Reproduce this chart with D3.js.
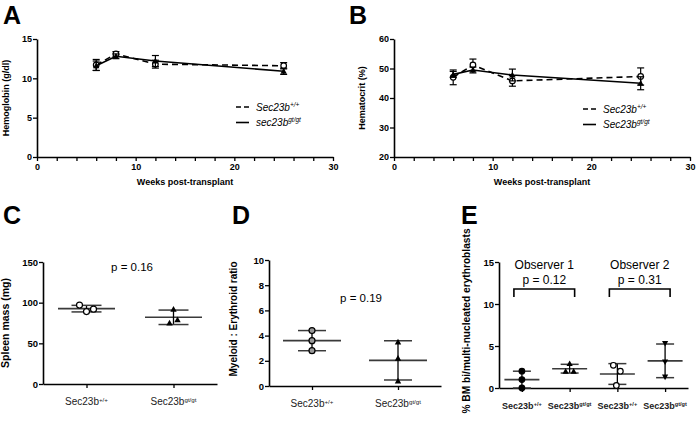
<!DOCTYPE html>
<html><head><meta charset="utf-8">
<script src="https://cdn.jsdelivr.net/npm/d3@7"></script>
<style>
body{margin:0;background:#fff;}
svg{font-family:"Liberation Sans",Arial,sans-serif;}
</style></head>
<body><svg id="c" width="696" height="435"></svg>
<script>
// ---------------- DATA ----------------
const weeks = [6, 8, 12, 25];
const hbWT = [11.7, 13.1, 11.8, 11.6];
const hbWTsd = [0.7, 0.3, 0.5, 0.4];
const hbGT = [11.6, 12.8, 12.2, 10.9];
const hbGTsd = [0.6, 0.3, 0.7, 0.4];
const hctWT = [47.0, 51.2, 45.8, 47.3];
const hctWTsd = [2.5, 2.0, 1.8, 2.9];
const hctGT = [48.0, 49.5, 47.8, 45.0];
const hctGTsd = [1.0, 1.0, 2.0, 2.2];
const legendA = [["Sec23b", "+/+"], ["sec23b", "gt/gt"]];
const legendB = [["Sec23b", "+/+"], ["Sec23b", "gt/gt"]];
const genotypes = ["+/+", "gt/gt"];
const spleenWT = [97, 89, 92];
const spleenGT = [92, 75, 79];
const meWT = [4.4, 3.6, 2.8];
const meGT = [3.5, 2.2, 0.4];
const binucObs1WT = [2.0, 1.0, 0.0];
const binucObs1GT = [2.9, 2.0, 2.0];
const binucObs2WT = [2.7, 2.0, 0.3];
const binucObs2GT = [5.3, 3.1, 1.3];
const observers = ["Observer 1", "Observer 2"];
const pValues = ["p = 0.16", "p = 0.19", "p = 0.12", "p = 0.31"];
const ticksA = [0, 5, 10, 15], ticksB = [20, 30, 40, 50, 60];
const ticksC = [0, 50, 100, 150], ticksD = [0, 2, 4, 6, 8, 10], ticksE = [0, 5, 10, 15];

// ---------------- HELPERS ----------------
const svg = d3.select("#c");
const FONT = "Liberation Sans, Arial, sans-serif";
const mean = a => d3.mean(a), sd = a => d3.deviation(a);

function panelLetter(t, x, y) {
  svg.append("text").attr("x", x).attr("y", y).text(t)
    .attr("font-size", 25).attr("font-weight", "bold").attr("font-family", FONT);
}
function styleAxis(g, fs) {
  g.selectAll("path.domain").attr("stroke", "#000").attr("stroke-width", 1.6);
  g.selectAll(".tick line").attr("stroke", "#000").attr("stroke-width", 1.3);
  g.selectAll(".tick text").attr("font-size", fs || 9).attr("font-weight", "bold")
    .attr("font-family", FONT).attr("fill", "#000");
}
function yTitle(t, x, y, fs) {
  svg.append("text").attr("transform", `translate(${x},${y}) rotate(-90)`)
    .attr("text-anchor", "middle").attr("font-size", fs || 9).attr("font-weight", "bold").text(t);
}
function marker(g, type, x, y, opts) {
  const o = Object.assign({r: 3, fill: "#000"}, opts || {});
  if (type === "circle") {
    g.append("circle").attr("cx", x).attr("cy", y).attr("r", o.r)
      .attr("fill", o.fill).attr("stroke", "#000").attr("stroke-width", 1.2);
  } else {
    const s = o.r + 0.8, dir = type === "tri" ? 1 : -1;
    g.append("path").attr("d",
      `M${x},${y - dir * s}L${x + s},${y + dir * s * 0.8}L${x - s},${y + dir * s * 0.8}Z`)
      .attr("fill", "#000");
  }
}

// ---------------- LINE PANELS (A, B) ----------------
function linePanel(cfg) {
  const x = d3.scaleLinear().domain([0, 30]).range([cfg.x0, cfg.x1]);
  const y = d3.scaleLinear().domain(cfg.ydom).range([157, 39]);
  const gx = svg.append("g").attr("transform", "translate(0,157)")
    .call(d3.axisBottom(x).tickValues(d3.range(0, 31, 2)).tickSize(4).tickSizeOuter(0)
      .tickFormat(d => d % 10 === 0 ? d : ""));
  styleAxis(gx);
  const gy = svg.append("g").attr("transform", `translate(${cfg.x0},0)`)
    .call(d3.axisLeft(y).tickValues(cfg.ticks).tickSize(4).tickSizeOuter(0).tickPadding(1));
  styleAxis(gy);
  svg.append("text").attr("x", (cfg.x0 + cfg.x1) / 2).attr("y", 185).attr("text-anchor", "middle")
    .attr("font-size", 9).attr("font-weight", "bold").text("Weeks post-transplant");
  yTitle(cfg.ytitle, cfg.titleX, 98);
  const series = [
    {v: cfg.wt, s: cfg.wtsd, dash: "6,4", m: "circle"},
    {v: cfg.gt, s: cfg.gtsd, dash: null, m: "tri"}
  ];
  const g = svg.append("g");
  series.forEach(se => {
    const pts = weeks.map((w, i) => [w, se.v[i], se.s[i]]);
    g.append("path").datum(pts)
      .attr("d", d3.line().x(d => x(d[0])).y(d => y(d[1])))
      .attr("fill", "none").attr("stroke", "#000").attr("stroke-width", 1.6)
      .attr("stroke-dasharray", se.dash);
    pts.forEach(d => {
      const px = x(d[0]), lo = y(d[1] - d[2]), hi = y(d[1] + d[2]);
      g.append("line").attr("x1", px).attr("x2", px).attr("y1", lo).attr("y2", hi)
        .attr("stroke", "#000").attr("stroke-width", 1.2);
      [lo, hi].forEach(yy => g.append("line").attr("x1", px - 3.5).attr("x2", px + 3.5)
        .attr("y1", yy).attr("y2", yy).attr("stroke", "#000").attr("stroke-width", 1.2));
    });
    pts.forEach(d => marker(g, se.m, x(d[0]), y(d[1]),
      se.m === "circle" ? {r: 2.8, fill: "#fff"} : {r: 2.4}));
  });
  // legend
  cfg.legend.forEach((lab, i) => {
    const ly = cfg.legY + i * 15.5;
    svg.append("line").attr("x1", cfg.legX).attr("x2", cfg.legX + 13).attr("y1", ly).attr("y2", ly)
      .attr("stroke", "#000").attr("stroke-width", 1.6).attr("stroke-dasharray", i === 0 ? "5,3" : null);
    const t = svg.append("text").attr("x", cfg.legX + 20).attr("y", ly + 3.5)
      .attr("font-size", 10).attr("font-style", "italic");
    t.append("tspan").text(lab[0]);
    t.append("tspan").attr("dy", -4).attr("font-size", 6.5).text(lab[1]);
  });
}

linePanel({x0: 37, x1: 333, ydom: [0, 15], ticks: ticksA, ytitle: "Hemoglobin (g/dl)", titleX: 9,
  wt: hbWT, wtsd: hbWTsd, gt: hbGT, gtsd: hbGTsd, legend: legendA, legX: 236, legY: 107});
linePanel({x0: 394, x1: 690, ydom: [20, 60], ticks: ticksB, ytitle: "Hematocrit (%)", titleX: 365,
  wt: hctWT, wtsd: hctWTsd, gt: hctGT, gtsd: hctGTsd, legend: legendB, legX: 583, legY: 109});

panelLetter("A", 3, 24);
panelLetter("B", 349, 24);
panelLetter("C", 3, 224);
panelLetter("D", 232, 224);
panelLetter("E", 461, 224);

// ---------------- SCATTER PANELS (C, D, E) ----------------
function scatterPanel(cfg) {
  const x = d3.scalePoint().domain(d3.range(cfg.groups.length)).range([cfg.x0, cfg.x1]).padding(cfg.pad);
  const y = d3.scaleLinear().domain(cfg.ydom).range([cfg.yb, cfg.yt]);
  const gx = svg.append("g").attr("transform", `translate(0,${cfg.yb})`)
    .call(d3.axisBottom(x).tickSize(4).tickSizeOuter(0).tickFormat(""));
  styleAxis(gx);
  const gy = svg.append("g").attr("transform", `translate(${cfg.x0},0)`)
    .call(d3.axisLeft(y).tickValues(cfg.ticks).tickSize(4).tickSizeOuter(0).tickPadding(1));
  styleAxis(gy, 9.5);
  yTitle(cfg.ytitle, cfg.titleX, cfg.titleY, cfg.titleFs);
  const g = svg.append("g");
  cfg.groups.forEach((grp, i) => {
    const cx = x(i), m = mean(grp.v), s = sd(grp.v);
    g.append("line").attr("x1", cx - cfg.mw).attr("x2", cx + cfg.mw).attr("y1", y(m)).attr("y2", y(m))
      .attr("stroke", "#3a3a3a").attr("stroke-width", 1.6);
    g.append("line").attr("x1", cx).attr("x2", cx).attr("y1", y(Math.max(m - s, cfg.ydom[0]))).attr("y2", y(m + s))
      .attr("stroke", "#000").attr("stroke-width", 1.3);
    [m - s, m + s].forEach(v => g.append("line").attr("x1", cx - cfg.cw).attr("x2", cx + cfg.cw)
      .attr("y1", y(Math.max(v, cfg.ydom[0]))).attr("y2", y(Math.max(v, cfg.ydom[0])))
      .attr("stroke", "#3a3a3a").attr("stroke-width", 1.5));
    grp.v.forEach((v, j) => marker(g, grp.m, cx + (grp.jit ? grp.jit[j] : 0), y(v), grp.o));
    // category label under the tick
    const t = svg.append("text").attr("x", cx).attr("y", cfg.yb + 21)
      .attr("text-anchor", "middle").attr("font-size", cfg.labFs)
      .attr("font-weight", cfg.labBold ? "bold" : "normal").attr("fill", "#222");
    t.append("tspan").text("Sec23b");
    t.append("tspan").attr("dy", -3.5).attr("font-size", cfg.labFs * 0.62).text(genotypes[grp.gi]);
  });
  return {x, y};
}

const C = scatterPanel({x0: 43, x1: 217, pad: 0.5, yb: 384, yt: 262, ydom: [0, 150], ticks: ticksC,
  ytitle: "Spleen mass (mg)", titleX: 9, titleY: 323, titleFs: 10.5, mw: 28.5, cw: 15, labFs: 10,
  groups: [
    {v: spleenWT, gi: 0, m: "circle", o: {r: 3, fill: "#fff"}, jit: [-7, 0, 7]},
    {v: spleenGT, gi: 1, m: "tri", o: {r: 2.4}, jit: [0, -4, 4]}
  ]});
svg.append("text").attr("x", 132).attr("y", 271).attr("text-anchor", "middle")
  .attr("font-size", 11.5).text(pValues[0]);

const D = scatterPanel({x0: 269, x1: 441, pad: 0.5, yb: 386, yt: 260, ydom: [0, 10], ticks: ticksD,
  ytitle: "Myeloid : Erythroid ratio", titleX: 237, titleY: 319, titleFs: 10, mw: 29, cw: 14, labFs: 10,
  groups: [
    {v: meWT, gi: 0, m: "circle", o: {r: 3, fill: "#999"}},
    {v: meGT, gi: 1, m: "tri", o: {r: 2.4}}
  ]});
svg.append("text").attr("x", 361).attr("y", 302).attr("text-anchor", "middle")
  .attr("font-size", 11.5).text(pValues[1]);

const E = scatterPanel({x0: 499, x1: 688, pad: 0.48, yb: 388, yt: 262, ydom: [0, 15], ticks: ticksE,
  ytitle: "% BM bi/multi-nucleated erythroblasts", titleX: 470, titleY: 321, titleFs: 10.2,
  mw: 17.5, cw: 9, labFs: 9, labBold: true,
  groups: [
    {v: binucObs1WT, gi: 0, m: "circle", o: {r: 2.8, fill: "#000"}},
    {v: binucObs1GT, gi: 1, m: "tri", o: {r: 2.3}, jit: [0, -4, 4]},
    {v: binucObs2WT, gi: 0, m: "circle", o: {r: 2.8, fill: "#fff"}, jit: [-4, 3, -1]},
    {v: binucObs2GT, gi: 1, m: "dtri", o: {r: 2.3}}
  ]});
observers.forEach((ob, k) => {
  const xa = E.x(2 * k) - 8, xb = E.x(2 * k + 1) + 5, xm = (xa + xb) / 2;
  svg.append("text").attr("x", xm).attr("y", 269).attr("text-anchor", "middle")
    .attr("font-size", 12).text(ob);
  svg.append("text").attr("x", xm).attr("y", 284).attr("text-anchor", "middle")
    .attr("font-size", 12).text(pValues[2 + k]);
  svg.append("path").attr("d", `M${xa},297V289H${xb}V297`)
    .attr("fill", "none").attr("stroke", "#000").attr("stroke-width", 1.6);
});
</script></body></html>
